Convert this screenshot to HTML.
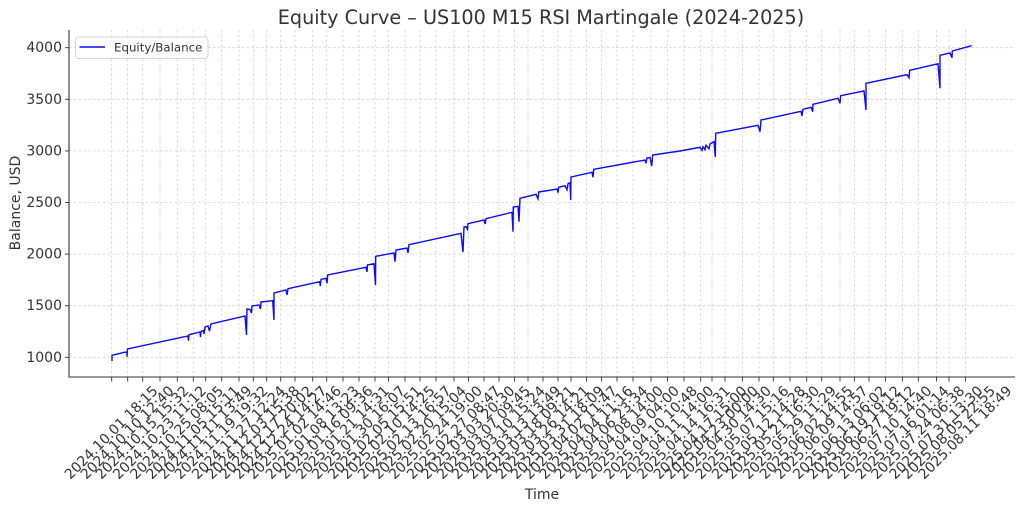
<!DOCTYPE html>
<html>
<head>
<meta charset="utf-8">
<style>
  html,body{margin:0;padding:0;background:#fff;}
  svg{display:block;}
  text{font-family:"DejaVu Sans","Liberation Sans",sans-serif;fill:#333;}
</style>
</head>
<body>
<svg width="1024" height="511" viewBox="0 0 1024 511" xmlns="http://www.w3.org/2000/svg">
  <rect x="0" y="0" width="1024" height="511" fill="#fff"/>

  <text x="541" y="24" font-size="19.2" text-anchor="middle">Equity Curve – US100 M15 RSI Martingale (2024-2025)</text>

  <g stroke="#d0d0d0" stroke-width="0.8" stroke-dasharray="2.6,2.2" fill="none">
    <line x1="69" y1="357.3" x2="1015" y2="357.3"/>
    <line x1="69" y1="305.7" x2="1015" y2="305.7"/>
    <line x1="69" y1="254.1" x2="1015" y2="254.1"/>
    <line x1="69" y1="202.5" x2="1015" y2="202.5"/>
    <line x1="69" y1="150.9" x2="1015" y2="150.9"/>
    <line x1="69" y1="99.3" x2="1015" y2="99.3"/>
    <line x1="69" y1="47.7" x2="1015" y2="47.7"/>
    <line x1="111.7" y1="30" x2="111.7" y2="377"/>
    <line x1="127.7" y1="30" x2="127.7" y2="377"/>
    <line x1="142.7" y1="30" x2="142.7" y2="377"/>
    <line x1="160" y1="30" x2="160" y2="377"/>
    <line x1="177.3" y1="30" x2="177.3" y2="377"/>
    <line x1="193.3" y1="30" x2="193.3" y2="377"/>
    <line x1="205.7" y1="30" x2="205.7" y2="377"/>
    <line x1="221.7" y1="30" x2="221.7" y2="377"/>
    <line x1="239" y1="30" x2="239" y2="377"/>
    <line x1="253.3" y1="30" x2="253.3" y2="377"/>
    <line x1="266.7" y1="30" x2="266.7" y2="377"/>
    <line x1="280.7" y1="30" x2="280.7" y2="377"/>
    <line x1="295" y1="30" x2="295" y2="377"/>
    <line x1="312.7" y1="30" x2="312.7" y2="377"/>
    <line x1="326.7" y1="30" x2="326.7" y2="377"/>
    <line x1="343" y1="30" x2="343" y2="377"/>
    <line x1="359" y1="30" x2="359" y2="377"/>
    <line x1="375" y1="30" x2="375" y2="377"/>
    <line x1="388.5" y1="30" x2="388.5" y2="377"/>
    <line x1="405" y1="30" x2="405" y2="377"/>
    <line x1="420" y1="30" x2="420" y2="377"/>
    <line x1="436" y1="30" x2="436" y2="377"/>
    <line x1="454" y1="30" x2="454" y2="377"/>
    <line x1="468.5" y1="30" x2="468.5" y2="377"/>
    <line x1="484" y1="30" x2="484" y2="377"/>
    <line x1="499" y1="30" x2="499" y2="377"/>
    <line x1="514.5" y1="30" x2="514.5" y2="377"/>
    <line x1="528" y1="30" x2="528" y2="377"/>
    <line x1="543" y1="30" x2="543" y2="377"/>
    <line x1="558" y1="30" x2="558" y2="377"/>
    <line x1="571" y1="30" x2="571" y2="377"/>
    <line x1="586.5" y1="30" x2="586.5" y2="377"/>
    <line x1="601.5" y1="30" x2="601.5" y2="377"/>
    <line x1="617" y1="30" x2="617" y2="377"/>
    <line x1="633" y1="30" x2="633" y2="377"/>
    <line x1="651" y1="30" x2="651" y2="377"/>
    <line x1="667.5" y1="30" x2="667.5" y2="377"/>
    <line x1="684" y1="30" x2="684" y2="377"/>
    <line x1="700.7" y1="30" x2="700.7" y2="377"/>
    <line x1="712" y1="30" x2="712" y2="377"/>
    <line x1="725" y1="30" x2="725" y2="377"/>
    <line x1="742.5" y1="30" x2="742.5" y2="377"/>
    <line x1="759" y1="30" x2="759" y2="377"/>
    <line x1="773.3" y1="30" x2="773.3" y2="377"/>
    <line x1="790" y1="30" x2="790" y2="377"/>
    <line x1="806.7" y1="30" x2="806.7" y2="377"/>
    <line x1="821.7" y1="30" x2="821.7" y2="377"/>
    <line x1="840" y1="30" x2="840" y2="377"/>
    <line x1="854.5" y1="30" x2="854.5" y2="377"/>
    <line x1="869" y1="30" x2="869" y2="377"/>
    <line x1="885.5" y1="30" x2="885.5" y2="377"/>
    <line x1="902.5" y1="30" x2="902.5" y2="377"/>
    <line x1="918.3" y1="30" x2="918.3" y2="377"/>
    <line x1="936.5" y1="30" x2="936.5" y2="377"/>
    <line x1="949" y1="30" x2="949" y2="377"/>
    <line x1="965.5" y1="30" x2="965.5" y2="377"/>
  </g>

  <g stroke="#333" stroke-width="0.9">
    <line x1="111.7" y1="377" x2="111.7" y2="381.5"/>
    <line x1="127.7" y1="377" x2="127.7" y2="381.5"/>
    <line x1="142.7" y1="377" x2="142.7" y2="381.5"/>
    <line x1="160" y1="377" x2="160" y2="381.5"/>
    <line x1="177.3" y1="377" x2="177.3" y2="381.5"/>
    <line x1="193.3" y1="377" x2="193.3" y2="381.5"/>
    <line x1="205.7" y1="377" x2="205.7" y2="381.5"/>
    <line x1="221.7" y1="377" x2="221.7" y2="381.5"/>
    <line x1="239" y1="377" x2="239" y2="381.5"/>
    <line x1="253.3" y1="377" x2="253.3" y2="381.5"/>
    <line x1="266.7" y1="377" x2="266.7" y2="381.5"/>
    <line x1="280.7" y1="377" x2="280.7" y2="381.5"/>
    <line x1="295" y1="377" x2="295" y2="381.5"/>
    <line x1="312.7" y1="377" x2="312.7" y2="381.5"/>
    <line x1="326.7" y1="377" x2="326.7" y2="381.5"/>
    <line x1="343" y1="377" x2="343" y2="381.5"/>
    <line x1="359" y1="377" x2="359" y2="381.5"/>
    <line x1="375" y1="377" x2="375" y2="381.5"/>
    <line x1="388.5" y1="377" x2="388.5" y2="381.5"/>
    <line x1="405" y1="377" x2="405" y2="381.5"/>
    <line x1="420" y1="377" x2="420" y2="381.5"/>
    <line x1="436" y1="377" x2="436" y2="381.5"/>
    <line x1="454" y1="377" x2="454" y2="381.5"/>
    <line x1="468.5" y1="377" x2="468.5" y2="381.5"/>
    <line x1="484" y1="377" x2="484" y2="381.5"/>
    <line x1="499" y1="377" x2="499" y2="381.5"/>
    <line x1="514.5" y1="377" x2="514.5" y2="381.5"/>
    <line x1="528" y1="377" x2="528" y2="381.5"/>
    <line x1="543" y1="377" x2="543" y2="381.5"/>
    <line x1="558" y1="377" x2="558" y2="381.5"/>
    <line x1="571" y1="377" x2="571" y2="381.5"/>
    <line x1="586.5" y1="377" x2="586.5" y2="381.5"/>
    <line x1="601.5" y1="377" x2="601.5" y2="381.5"/>
    <line x1="617" y1="377" x2="617" y2="381.5"/>
    <line x1="633" y1="377" x2="633" y2="381.5"/>
    <line x1="651" y1="377" x2="651" y2="381.5"/>
    <line x1="667.5" y1="377" x2="667.5" y2="381.5"/>
    <line x1="684" y1="377" x2="684" y2="381.5"/>
    <line x1="700.7" y1="377" x2="700.7" y2="381.5"/>
    <line x1="712" y1="377" x2="712" y2="381.5"/>
    <line x1="725" y1="377" x2="725" y2="381.5"/>
    <line x1="742.5" y1="377" x2="742.5" y2="381.5"/>
    <line x1="759" y1="377" x2="759" y2="381.5"/>
    <line x1="773.3" y1="377" x2="773.3" y2="381.5"/>
    <line x1="790" y1="377" x2="790" y2="381.5"/>
    <line x1="806.7" y1="377" x2="806.7" y2="381.5"/>
    <line x1="821.7" y1="377" x2="821.7" y2="381.5"/>
    <line x1="840" y1="377" x2="840" y2="381.5"/>
    <line x1="854.5" y1="377" x2="854.5" y2="381.5"/>
    <line x1="869" y1="377" x2="869" y2="381.5"/>
    <line x1="885.5" y1="377" x2="885.5" y2="381.5"/>
    <line x1="902.5" y1="377" x2="902.5" y2="381.5"/>
    <line x1="918.3" y1="377" x2="918.3" y2="381.5"/>
    <line x1="936.5" y1="377" x2="936.5" y2="381.5"/>
    <line x1="949" y1="377" x2="949" y2="381.5"/>
    <line x1="965.5" y1="377" x2="965.5" y2="381.5"/>
    <line x1="65" y1="357.3" x2="69" y2="357.3"/>
    <line x1="65" y1="305.7" x2="69" y2="305.7"/>
    <line x1="65" y1="254.1" x2="69" y2="254.1"/>
    <line x1="65" y1="202.5" x2="69" y2="202.5"/>
    <line x1="65" y1="150.9" x2="69" y2="150.9"/>
    <line x1="65" y1="99.3" x2="69" y2="99.3"/>
    <line x1="65" y1="47.7" x2="69" y2="47.7"/>
  </g>

  <g font-size="14" text-anchor="middle" dominant-baseline="central">
    <text x="111.7" y="433" transform="rotate(-45 111.7 433)">2024.10.01 18:15</text>
    <text x="127.7" y="433" transform="rotate(-45 127.7 433)">2024.10.10 12:40</text>
    <text x="142.7" y="433" transform="rotate(-45 142.7 433)">2024.10.15 15:32</text>
    <text x="160" y="433" transform="rotate(-45 160 433)">2024.10.23 11:12</text>
    <text x="177.3" y="433" transform="rotate(-45 177.3 433)">2024.10.25 08:05</text>
    <text x="193.3" y="433" transform="rotate(-45 193.3 433)">2024.11.05 15:11</text>
    <text x="205.7" y="433" transform="rotate(-45 205.7 433)">2024.11.11 13:49</text>
    <text x="221.7" y="433" transform="rotate(-45 221.7 433)">2024.11.19 19:32</text>
    <text x="239" y="433" transform="rotate(-45 239 433)">2024.11.27 12:24</text>
    <text x="253.3" y="433" transform="rotate(-45 253.3 433)">2024.12.03 15:38</text>
    <text x="266.7" y="433" transform="rotate(-45 266.7 433)">2024.12.17 20:02</text>
    <text x="280.7" y="433" transform="rotate(-45 280.7 433)">2024.12.24 14:27</text>
    <text x="295" y="433" transform="rotate(-45 295 433)">2025.01.02 14:46</text>
    <text x="312.7" y="433" transform="rotate(-45 312.7 433)">2025.01.08 13:23</text>
    <text x="326.7" y="433" transform="rotate(-45 326.7 433)">2025.01.16 09:36</text>
    <text x="343" y="433" transform="rotate(-45 343 433)">2025.01.21 14:31</text>
    <text x="359" y="433" transform="rotate(-45 359 433)">2025.01.30 16:07</text>
    <text x="375" y="433" transform="rotate(-45 375 433)">2025.02.05 15:51</text>
    <text x="388.5" y="433" transform="rotate(-45 388.5 433)">2025.02.10 14:25</text>
    <text x="405" y="433" transform="rotate(-45 405 433)">2025.02.13 16:57</text>
    <text x="420" y="433" transform="rotate(-45 420 433)">2025.02.20 15:04</text>
    <text x="436" y="433" transform="rotate(-45 436 433)">2025.02.24 19:00</text>
    <text x="454" y="433" transform="rotate(-45 454 433)">2025.02.27 08:47</text>
    <text x="468.5" y="433" transform="rotate(-45 468.5 433)">2025.03.03 20:30</text>
    <text x="484" y="433" transform="rotate(-45 484 433)">2025.03.07 09:45</text>
    <text x="499" y="433" transform="rotate(-45 499 433)">2025.03.10 15:24</text>
    <text x="514.5" y="433" transform="rotate(-45 514.5 433)">2025.03.13 13:49</text>
    <text x="528" y="433" transform="rotate(-45 528 433)">2025.03.18 09:21</text>
    <text x="543" y="433" transform="rotate(-45 543 433)">2025.03.26 14:21</text>
    <text x="558" y="433" transform="rotate(-45 558 433)">2025.03.31 18:09</text>
    <text x="571" y="433" transform="rotate(-45 571 433)">2025.04.02 11:47</text>
    <text x="586.5" y="433" transform="rotate(-45 586.5 433)">2025.04.04 11:16</text>
    <text x="601.5" y="433" transform="rotate(-45 601.5 433)">2025.04.06 23:34</text>
    <text x="617" y="433" transform="rotate(-45 617 433)">2025.04.08 14:00</text>
    <text x="633" y="433" transform="rotate(-45 633 433)">2025.04.09 04:00</text>
    <text x="651" y="433" transform="rotate(-45 651 433)">2025.04.10 10:48</text>
    <text x="667.5" y="433" transform="rotate(-45 667.5 433)">2025.04.11 14:00</text>
    <text x="684" y="433" transform="rotate(-45 684 433)">2025.04.14 16:31</text>
    <text x="700.7" y="433" transform="rotate(-45 700.7 433)">2025.04.17 15:00</text>
    <text x="712" y="433" transform="rotate(-45 712 433)">2025.04.23 00:00</text>
    <text x="725" y="433" transform="rotate(-45 725 433)">2025.04.30 14:30</text>
    <text x="742.5" y="433" transform="rotate(-45 742.5 433)">2025.05.07 15:16</text>
    <text x="759" y="433" transform="rotate(-45 759 433)">2025.05.12 14:28</text>
    <text x="773.3" y="433" transform="rotate(-45 773.3 433)">2025.05.21 16:30</text>
    <text x="790" y="433" transform="rotate(-45 790 433)">2025.05.29 11:29</text>
    <text x="806.7" y="433" transform="rotate(-45 806.7 433)">2025.06.02 14:55</text>
    <text x="821.7" y="433" transform="rotate(-45 821.7 433)">2025.06.09 14:57</text>
    <text x="840" y="433" transform="rotate(-45 840 433)">2025.06.13 06:02</text>
    <text x="854.5" y="433" transform="rotate(-45 854.5 433)">2025.06.19 19:12</text>
    <text x="869" y="433" transform="rotate(-45 869 433)">2025.06.27 19:12</text>
    <text x="885.5" y="433" transform="rotate(-45 885.5 433)">2025.07.10 14:40</text>
    <text x="902.5" y="433" transform="rotate(-45 902.5 433)">2025.07.16 01:14</text>
    <text x="918.3" y="433" transform="rotate(-45 918.3 433)">2025.07.24 06:38</text>
    <text x="936.5" y="433" transform="rotate(-45 936.5 433)">2025.07.31 13:30</text>
    <text x="949" y="433" transform="rotate(-45 949 433)">2025.08.05 22:55</text>
    <text x="965.5" y="433" transform="rotate(-45 965.5 433)">2025.08.11 18:49</text>
  </g>

  <g font-size="14" text-anchor="end" dominant-baseline="central">
    <text x="62" y="357.8">1000</text>
    <text x="62" y="306.2">1500</text>
    <text x="62" y="254.6">2000</text>
    <text x="62" y="203">2500</text>
    <text x="62" y="151.4">3000</text>
    <text x="62" y="99.8">3500</text>
    <text x="62" y="48.2">4000</text>
  </g>

  <text x="542" y="499" font-size="14" text-anchor="middle">Time</text>
  <text x="0" y="0" font-size="14" text-anchor="middle" transform="translate(20,203) rotate(-90)">Balance, USD</text>

  <path fill="none" stroke="#0a0aff" stroke-width="1.4" stroke-linejoin="miter" d="
  M112,361 L112,355.3 L127,351.7 L127,356.7 L127.5,349 L188,336 L188.5,340.7 L189,334.7
  L200,332 L200.5,337 L201,331.5 L203.5,330.5 L204,334 L205,327 L208,326 L209.5,331 L211,324
  L245,316 L246.5,335 L247,309 L250,309.5 L251.5,313 L252,306 L259,305 L260.5,309 L261,302
  L272.7,300.7 L274,320 L274,293 L286,290 L287,295 L288,288.7 L319.7,281.7 L320.3,286 L321,279.3
  L326,278.3 L327,283.3 L327.7,275 L366,267.3 L367,272 L367.5,265 L374,263.7 L375.5,285 L375.7,256.3
  L394,253 L395,261.7 L396,250 L407,248 L408,253 L409,244.7 L461,233.3 L463,252 L464,227
  L466,226.7 L467.5,229.3 L468,223.7 L484,220 L485.3,224 L486,218.7 L512,212.3 L513,231.7 L513.3,207
  L518,206.3 L519,221.7 L520,198.3 L536,194.3 L538,198.7 L538.7,192 L557,189 L558,192.7 L558.7,187.3
  L565,185.7 L567,189.7 L568,183.7 L570,182.7 L570.7,200 L571,177 L592,172.3 L593,177.3 L593.7,169.3
  L645,160 L646,163.3 L647,158 L650,157.5 L651.7,166 L652.7,155 L680,151 L700,147.3 L702,150.3 L703,146.7
  L705,149.7 L706,145.3 L709,148.7 L710,144 L714,141.7 L715.3,157 L715.7,133.3 L758,125.3 L760,131.7 L761,120
  L801,111.3 L802,116 L803,109.3 L811,107.3 L812.7,111.7 L813,104.3 L838,98.3 L840,103.3 L840.7,95.7
  L864,91 L866,110 L866,83.3 L907,74.7 L909,77.7 L909.7,70.3 L938,63.7 L940,88.3 L940,55.3
  L950,53 L952,57.7 L952.3,51 L971.7,45.7"/>

  <line x1="69" y1="30" x2="69" y2="377.5" stroke="#333" stroke-width="1.1"/>
  <line x1="68.5" y1="377" x2="1015" y2="377" stroke="#333" stroke-width="1.1"/>

  <rect x="75.5" y="37" width="132.5" height="21.5" rx="3" ry="3" fill="#fff" fill-opacity="0.9" stroke="#d4d4d4" stroke-width="1"/>
  <line x1="79.5" y1="47" x2="105" y2="47" stroke="#0a0aff" stroke-width="1.4"/>
  <text x="114" y="51.3" font-size="11.8">Equity/Balance</text>
</svg>
</body>
</html>
